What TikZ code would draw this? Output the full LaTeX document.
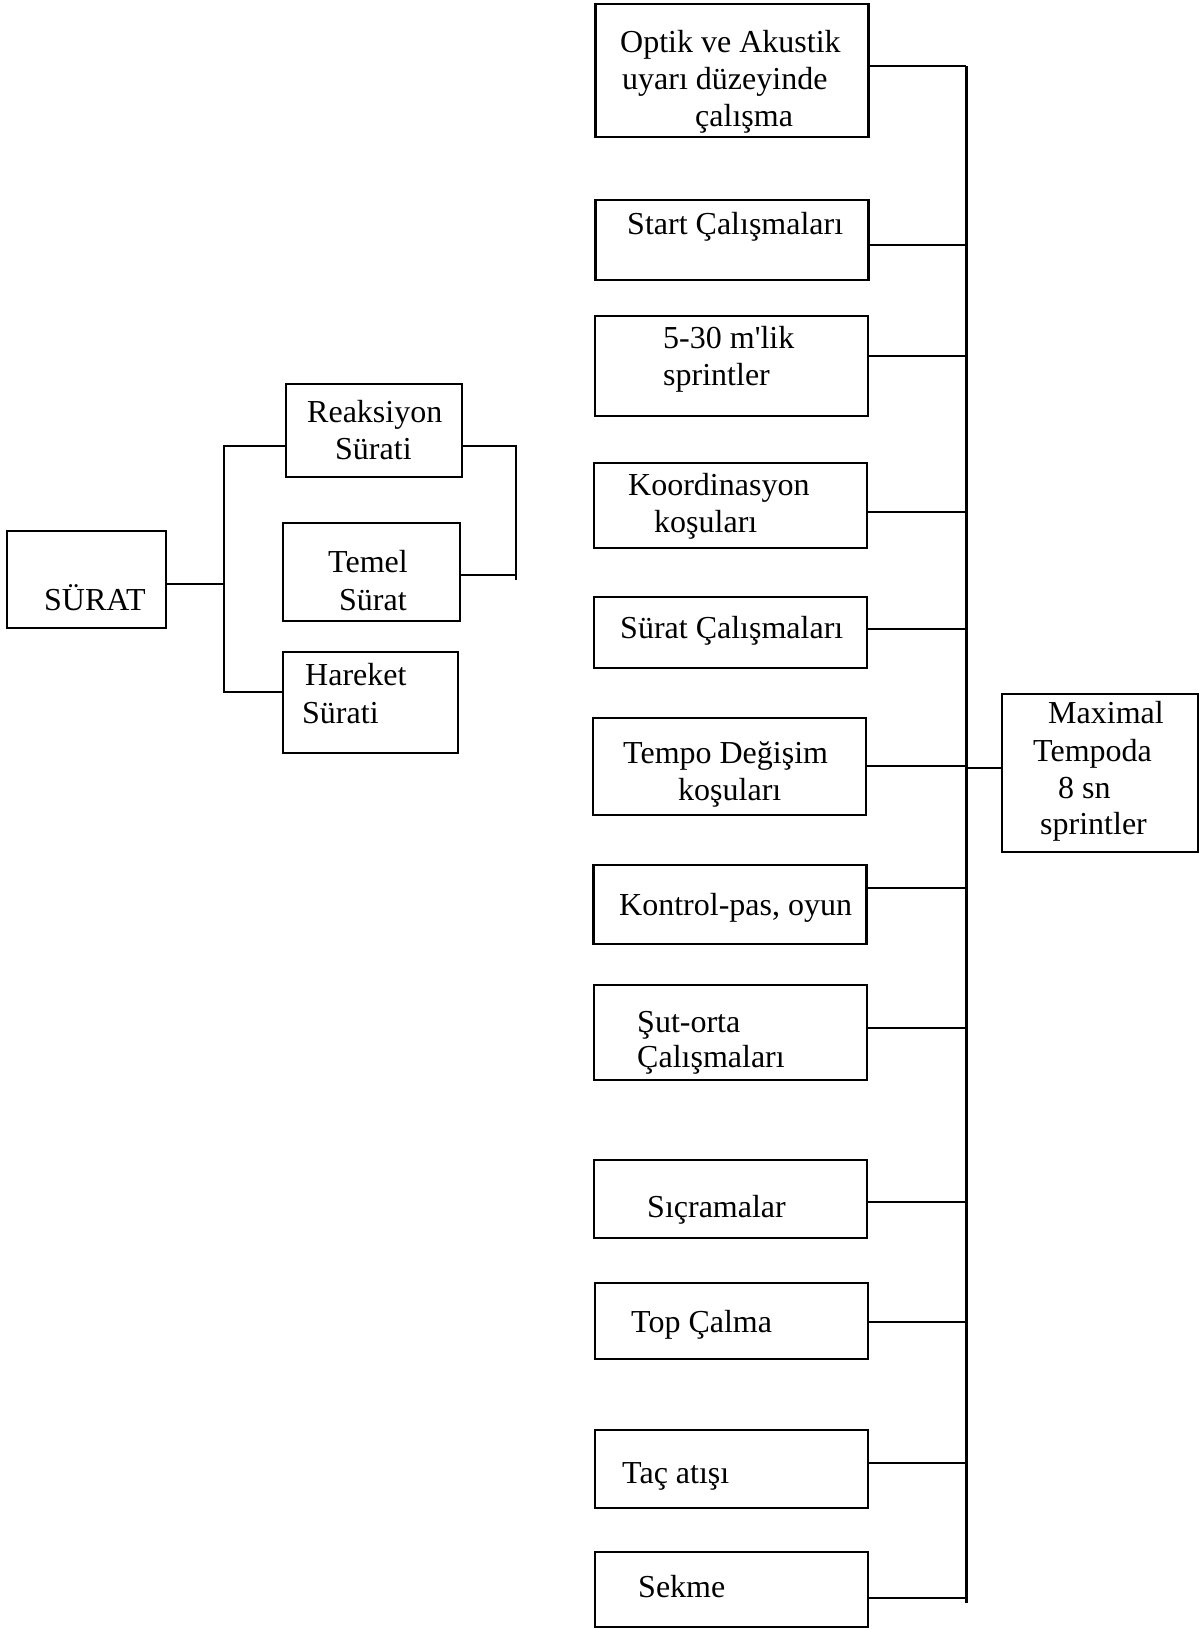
\documentclass[tikz,border=0pt]{standalone}
\usepackage{fontspec}
\setmainfont{Liberation Serif}
\usepackage{tikz}

\begin{document}
\begin{tikzpicture}[x=1pt,y=-1pt,
  box/.style={draw,line width=2.6pt,inner sep=0pt},
  colbox/.style={box,minimum width=273pt},
  link/.style={line width=2.4pt},
  lbl/.style={anchor=base west,inner sep=0pt,font=\fontsize{32}{38}\selectfont}]
\useasboundingbox (0,0) rectangle (1199,1629);
% left part
\node[box,minimum width=159pt,minimum height=97pt] (surat) at (86.5,579.5) {};
\node[box,minimum width=176pt,minimum height=93pt] (reak) at (374,430.5) {};
\node[box,minimum width=177pt,minimum height=98pt] (temel) at (371.5,572) {};
\node[box,minimum width=175pt,minimum height=101pt] (hareket) at (370.5,702.5) {};
\node[lbl] (surat1) at (44,610) {SÜRAT};
\node[lbl] (reak1) at (307,422) {Reaksiyon};
\node[lbl] (reak2) at (335,459) {Sürati};
\node[lbl] (temel1) at (328,572) {Temel};
\node[lbl] (temel2) at (339,610) {Sürat};
\node[lbl] (hareket1) at (305,685) {Hareket};
\node[lbl] (hareket2) at (302,723) {Sürati};
\coordinate (lfork) at (224,584);
\coordinate (rfork) at (516,446);
\draw[link] (surat.east |- lfork) -- (lfork);
\draw[link] (reak.west |- 0,446) -- (lfork |- 0,446) -- (lfork |- 0,692)
  -- (hareket.west |- 0,692);
\draw[link] (reak.east |- rfork) -- (rfork) -- (rfork |- 0,580);
\draw[link] (temel.east |- 0,575) -- (rfork |- 0,575);
% right column
\node[colbox,minimum height=133pt] (optik) at (732,70.5) {};
\node[colbox,minimum height=80pt] (start) at (732,240) {};
\node[colbox,minimum height=100pt] (sprint) at (731.5,366) {};
\node[colbox,minimum height=85pt] (koord) at (730.5,505.5) {};
\node[colbox,minimum height=71pt] (suratc) at (730.5,632.5) {};
\node[colbox,minimum height=97pt] (tempo) at (729.5,766.5) {};
\node[colbox,minimum height=79pt] (kontrol) at (730,904.5) {};
\node[colbox,minimum height=95pt] (sut) at (730.5,1032.5) {};
\node[colbox,minimum height=78pt] (sicra) at (730.5,1199) {};
\node[colbox,minimum height=76pt] (top) at (731.5,1321) {};
\node[colbox,minimum height=78pt] (tac) at (731.5,1469) {};
\node[colbox,minimum height=75pt] (sekme) at (731.5,1589.5) {};
\node[box,minimum width=196pt,minimum height=158pt] (maximal) at (1100,773) {};
\node[lbl] (optik1) at (620,53) {Optik ve Akustik};
\node[lbl] (optik2) at (622,90) {uyarı düzeyinde};
\node[lbl] (optik3) at (695,127) {çalışma};
\node[lbl] (start1) at (627,235) {Start Çalışmaları};
\node[lbl] (sprint1) at (663,348) {5-30 m\textquotesingle lik};
\node[lbl] (sprint2) at (663,385) {sprintler};
\node[lbl] (koord1) at (628,495) {Koordinasyon};
\node[lbl] (koord2) at (654,532) {koşuları};
\node[lbl] (suratc1) at (620,638) {Sürat Çalışmaları};
\node[lbl] (tempo1) at (623,763) {Tempo Değişim};
\node[lbl] (tempo2) at (678,800) {koşuları};
\node[lbl] (kontrol1) at (619,915) {Kontrol-pas, oyun};
\node[lbl] (sut1) at (637,1032) {Şut-orta};
\node[lbl] (sut2) at (637,1067) {Çalışmaları};
\node[lbl] (sicra1) at (647,1217) {Sıçramalar};
\node[lbl] (top1) at (631,1332) {Top Çalma};
\node[lbl] (tac1) at (622,1483) {Taç atışı};
\node[lbl] (sekme1) at (638,1597) {Sekme};
\node[lbl] (maximal1) at (1048,723) {Maximal};
\node[lbl] (maximal2) at (1033,761) {Tempoda};
\node[lbl] (maximal3) at (1058,798) {8 sn};
\node[lbl] (maximal4) at (1040,834) {sprintler};
% bus
\coordinate (bustop) at (966,66);
\coordinate (busbot) at (966,1603);
\draw[line width=3pt] (bustop) -- (busbot);
\foreach \n/\y in {optik/66,start/245,sprint/356,koord/512,suratc/629,
  tempo/766,kontrol/888,sut/1028,sicra/1202,top/1322,tac/1463,sekme/1598}
  \draw[link] (\n.east |- 0,\y) -- (bustop |- 0,\y);
\draw[link] (maximal.west |- 0,768) -- (bustop |- 0,768);
\end{tikzpicture}
\end{document}
